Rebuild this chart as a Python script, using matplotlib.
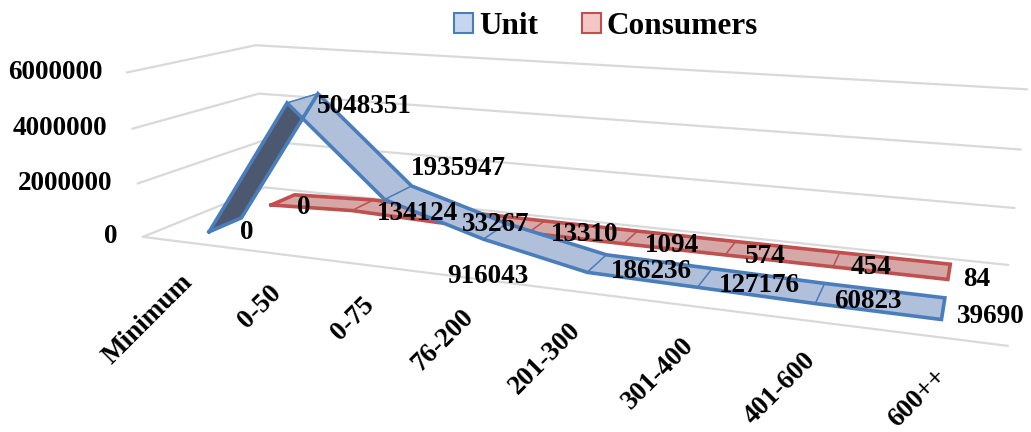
import numpy as np
import matplotlib.pyplot as plt
from matplotlib.patches import Polygon, Patch

categories = ['Minimum', '0-50', '0-75', '76-200', '201-300', '301-400', '401-600', '600++']
unit = [0, 5048351, 1935947, 916043, 186236, 127176, 60823, 39690]
consumers = [0, 134124, 33267, 13310, 1094, 574, 454, 84]
value_ticks = [0, 2000000, 4000000, 6000000]

ncat = len(categories)
vmax = value_ticks[-1]

# pixel spots where the corners of the 3d plot box land; the camera is fitted to them
box_world = [(0, 0, 0), (0, 0, 1), (0, 1, 0), (0, 1, 1), (1, 0, 1), (1, 1, 1), (1, 0, 0)]
box_screen = [(143, 237), (265, 187), (127, 73), (256, 45), (1008, 266), (1027, 89), (1008, 345)]


def fit_camera(world, screen):
    w = np.array(world, float)
    s = np.array(screen, float)
    c = s.mean(0)
    k = np.sqrt(2) / np.mean(np.linalg.norm(s - c, axis=1))
    T = np.array([[k, 0, -k * c[0]], [0, k, -k * c[1]], [0, 0, 1]])
    sn = (s - c) * k
    rows = []
    for (X, Y, Z), (u, v) in zip(w, sn):
        rows.append([X, Y, Z, 1, 0, 0, 0, 0, -u * X, -u * Y, -u * Z, -u])
        rows.append([0, 0, 0, 0, X, Y, Z, 1, -v * X, -v * Y, -v * Z, -v])
    P = np.linalg.svd(np.array(rows))[2][-1].reshape(3, 4)
    return np.linalg.inv(T) @ P


P = fit_camera(box_world, box_screen)


def project(x, v, z):
    p = P @ np.array([x / ncat, v / vmax, z, 1.0])
    return p[0] / p[2], p[1] / p[2]


fig = plt.figure(figsize=(10.31, 4.32), dpi=100)
ax = fig.add_axes([0, 0, 1, 1])
ax.set_xlim(0, 1031)
ax.set_ylim(432, 0)
ax.axis('off')

font = dict(family='Liberation Serif', weight='bold')
grid_col = '#d9d9d9'

# walls: gridlines on the left wall and the back wall
for t in value_ticks:
    pts = np.array([project(0, t, 0), project(0, t, 1), project(ncat, t, 1)])
    ax.plot(pts[:, 0], pts[:, 1], color=grid_col, lw=1.6, zorder=1)
    fx, fy = project(0, t, 0)
    ax.text(fx - 25, fy, str(t), ha='right', va='center', fontsize=19.5, **font)

# floor front edge (category axis)
pts = np.array([project(0, 0, 0), project(ncat, 0, 0)])
ax.plot(pts[:, 0], pts[:, 1], color=grid_col, lw=1.6, zorder=1)

xs = np.arange(ncat) + 0.5

for x, lab in zip(xs, categories):
    px, py = project(x, 0, 0)
    ax.text(px - 5, py + 27, lab, rotation=45, rotation_mode='anchor',
            ha='right', va='top', fontsize=19.5, **font)


def draw_ribbon(values, z0, z1, top, under, edge, zo):
    for i in range(ncat - 1):
        q = np.array([project(xs[i], values[i], z0), project(xs[i + 1], values[i + 1], z0),
                      project(xs[i + 1], values[i + 1], z1), project(xs[i], values[i], z1)])
        area = np.sum(q[:, 0] * np.roll(q[:, 1], -1) - np.roll(q[:, 0], -1) * q[:, 1])
        face = top if area < 0 else under
        ax.add_patch(Polygon(q, closed=True, fc=face, ec=edge, lw=1.0, zorder=zo))
    front = np.array([project(x, v, z0) for x, v in zip(xs, values)])
    back = np.array([project(x, v, z1) for x, v in zip(xs, values)])
    outline = np.vstack([front, back[::-1], front[:1]])
    ax.plot(outline[:, 0], outline[:, 1], color=edge, lw=2.6, zorder=zo + 0.1,
            solid_joinstyle='miter')


draw_ribbon(consumers, 0.70, 0.92, '#d5a7a7', '#c48f8f', '#c0504d', 2)
draw_ribbon(unit, 0.18, 0.44, '#b0bfda', '#4b5870', '#4a7ebb', 3)

# Excel moved two of the Unit labels off the ribbon (pixels)
label_nudge = {(1, 2): (-2, -32), (1, 3): (-62, 37)}

for s, (vals, zc) in enumerate(((consumers, 0.81), (unit, 0.31))):
    for i, (x, v) in enumerate(zip(xs, vals)):
        px, py = project(x, v, zc)
        dx, dy = label_nudge.get((s, i), (0, 0))
        ax.text(px + 14 + dx, py + 8 + dy, str(v), ha='left', va='center',
                fontsize=19.5, zorder=5, **font)

handles = [Patch(facecolor='#c6d6ee', edgecolor='#4a7ebb', lw=1.5, label='Unit'),
           Patch(facecolor='#f4c6c6', edgecolor='#c0504d', lw=1.5, label='Consumers')]
ax.legend(handles=handles, loc='upper center', bbox_to_anchor=(0.588, 1.038), ncol=2,
          frameon=False, prop=dict(family='Liberation Serif', weight='bold', size=22.5),
          handlelength=0.6, handleheight=0.6, handletextpad=0.2, columnspacing=1.4)

fig.savefig('out.png', dpi=100)
